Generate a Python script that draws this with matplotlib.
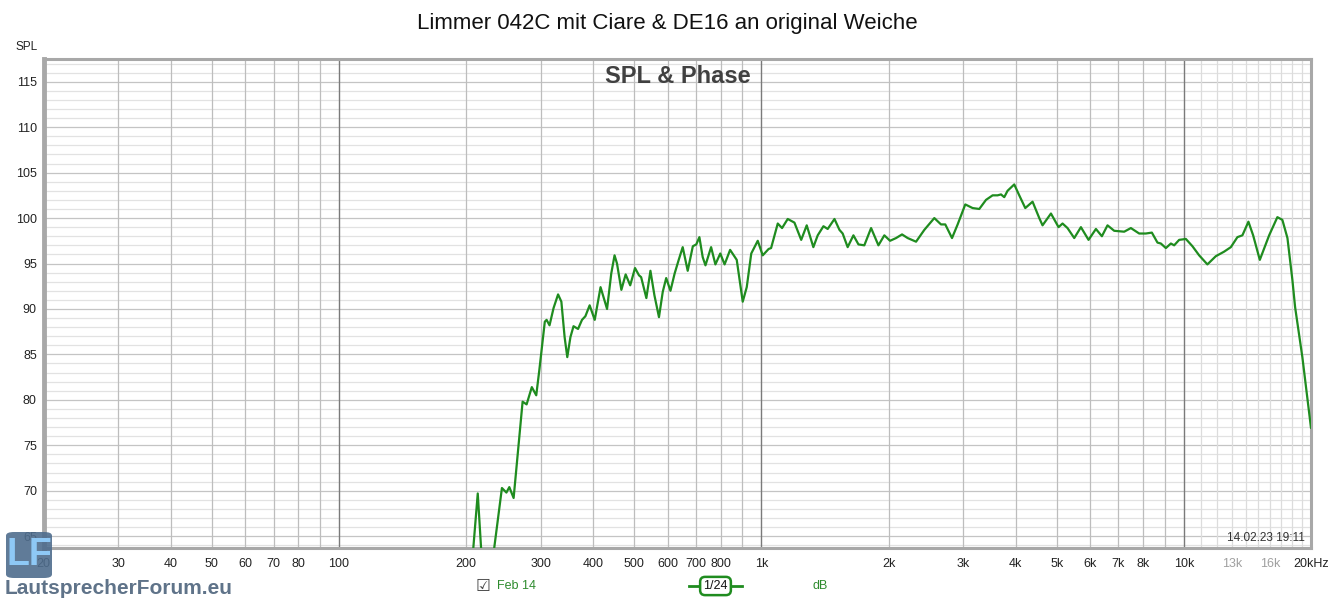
import matplotlib.pyplot as plt
from matplotlib.patches import FancyBboxPatch
from matplotlib.lines import Line2D

plt.rcParams['font.family'] = ['Liberation Sans', 'DejaVu Sans']

freq = [204, 213, 220, 226, 233, 243, 249, 253, 259, 272,
        278, 286, 293, 298, 307, 310, 315, 322, 330, 336,
        342, 347, 353, 359, 368, 376, 383, 392, 403, 416,
        431, 441, 449, 455, 466, 477, 489, 502, 513, 519,
        534, 546, 558, 572, 584, 595, 609, 623, 637, 651,
        669, 688, 701, 713, 726, 737, 760, 778, 799, 818,
        843, 874, 903, 923, 946, 980, 1007, 1040, 1054, 1093,
        1119, 1154, 1197, 1242, 1280, 1327, 1359, 1402, 1435, 1489,
        1530, 1557, 1600, 1651, 1697, 1752, 1818, 1892, 1954, 2016,
        2083, 2152, 2219, 2323, 2430, 2566, 2661, 2724, 2826, 2914,
        3038, 3162, 3279, 3401, 3526, 3622, 3691, 3757, 3825, 3967,
        4077, 4213, 4384, 4547, 4629, 4846, 5051, 5162, 5304, 5502,
        5706, 5948, 6192, 6397, 6596, 6841, 7224, 7492, 7839, 8129,
        8400, 8661, 8822, 9067, 9318, 9486, 9747, 10110, 10480, 10870,
        11370, 11900, 12450, 12920, 13390, 13760, 14220, 14590, 15130, 15920,
        16650, 17110, 17590, 18070, 18340, 19080, 20000]
spl = [59.0, 69.7, 59.0, 56.0, 63.7, 70.3, 69.8, 70.4, 69.2, 79.8,
       79.5, 81.4, 80.5, 83.3, 88.6, 88.8, 88.2, 90.1, 91.6, 90.8,
       86.9, 84.7, 86.9, 88.1, 87.8, 88.8, 89.2, 90.4, 88.8, 92.4,
       90.0, 93.9, 95.9, 95.0, 92.1, 93.8, 92.6, 94.5, 93.7, 93.5,
       91.2, 94.2, 91.5, 89.1, 91.9, 93.4, 92.0, 93.9, 95.4, 96.8,
       94.2, 96.9, 97.1, 97.9, 95.7, 94.8, 96.8, 94.9, 96.1, 94.9,
       96.5, 95.4, 90.8, 92.4, 96.1, 97.5, 95.9, 96.6, 96.7, 99.4,
       98.9, 99.9, 99.5, 97.6, 99.2, 96.8, 98.1, 99.1, 98.8, 99.9,
       98.7, 98.3, 96.8, 98.1, 97.1, 97.0, 98.9, 97.0, 98.1, 97.5,
       97.8, 98.2, 97.8, 97.4, 98.7, 100.0, 99.3, 99.3, 97.8, 99.3,
       101.5, 101.1, 101.0, 102.0, 102.5, 102.5, 102.6, 102.3, 103.0, 103.7,
       102.5, 101.1, 101.8, 100.0, 99.2, 100.5, 99.0, 99.4, 98.9, 97.8,
       99.0, 97.6, 98.8, 98.0, 99.2, 98.6, 98.5, 98.9, 98.3, 98.3,
       98.4, 97.3, 97.2, 96.7, 97.2, 97.0, 97.6, 97.7, 96.9, 95.9,
       94.9, 95.8, 96.3, 96.8, 97.9, 98.1, 99.6, 98.1, 95.4, 98.1,
       100.1, 99.8, 97.8, 93.2, 90.2, 84.7, 76.9]

x_tick_freqs = [20, 30, 40, 50, 60, 70, 80, 100, 200, 300, 400, 500, 600, 700, 800,
                1000, 2000, 3000, 4000, 5000, 6000, 7000, 8000, 10000, 13000, 16000, 20000]
x_tick_labels = ['20', '30', '40', '50', '60', '70', '80', '100', '200', '300', '400', '500',
                 '600', '700', '800', '1k', '2k', '3k', '4k', '5k', '6k', '7k', '8k', '10k',
                 '13k', '16k', '20kHz']
y_ticks = [65, 70, 75, 80, 85, 90, 95, 100, 105, 110, 115]

W, H = 1333, 606
fig = plt.figure(figsize=(W / 100, H / 100), dpi=100)
fig.patch.set_facecolor('white')

ax = fig.add_axes([43.8 / W, 1 - 548 / H, (1311 - 43.8) / W, (548 - 59) / H])
ax.set_xscale('log')
ax.set_xlim(20, 20000)
ax.set_ylim(63.7, 117.5)

# grid: 1 dB minor / 5 dB major, 1-2-3.. per decade, 1k steps above 10k
for db in range(64, 118):
    ax.axhline(db, color='#c4c4c4' if db % 5 == 0 else '#e2e2e2', lw=0.9, zorder=0)
for dec in [10, 100, 1000]:
    for m in range(2, 10):
        f = m * dec
        if f < 20:
            continue
        ax.axvline(f, color='#bdbdbd', lw=0.9, zorder=0)
for f in range(11000, 20000, 1000):
    ax.axvline(f, color='#dcdcdc', lw=0.9, zorder=0)
for f in [100, 1000, 10000]:
    ax.axvline(f, color='#7a7a7a', lw=1.0, zorder=0)

ax.plot(freq, spl, color='#1f8c1f', lw=1.6, zorder=3,
        solid_joinstyle='round', solid_capstyle='round')

ax.set_xticks(x_tick_freqs)
ax.set_xticklabels(x_tick_labels)
ax.xaxis.set_minor_locator(plt.NullLocator())
ax.set_yticks(y_ticks)
ax.tick_params(axis='both', length=0, labelsize=9, colors='#222222')
ax.tick_params(axis='x', pad=7)
ax.tick_params(axis='y', pad=5)
for lbl in ax.get_xticklabels():
    if lbl.get_text() in ('13k', '16k'):
        lbl.set_color('#a0a0a0')

for side in ['top', 'right', 'bottom', 'left']:
    ax.spines[side].set_color('#a8a8a8')
    ax.spines[side].set_linewidth(2.2)
ax.spines['left'].set_linewidth(3.5)

ax.text(0.5, 0.965, 'SPL & Phase', transform=ax.transAxes, ha='center', va='center',
        fontsize=17, fontweight='bold', color='#404040')
ax.text(0.995, 0.008, '14.02.23 19:11', transform=ax.transAxes, ha='right', va='bottom',
        fontsize=8.5, color='#333333')

fig.text(667 / W, 1 - 23 / H, 'Limmer 042C mit Ciare & DE16 an original Weiche',
         ha='center', va='center', fontsize=16, color='#111111')
fig.text(38 / W, 1 - 47 / H, 'SPL', ha='right', va='center', fontsize=8.5, color='#222222')

# legend strip under the plot
fig.text(483 / W, 1 - 586 / H, '\u2611', ha='center', va='center', fontsize=12,
         color='#444444', family=['DejaVu Sans'])
fig.text(497 / W, 1 - 586 / H, 'Feb 14', ha='left', va='center', fontsize=9, color='#2e8b2e')
fig.add_artist(Line2D([689 / W, 742 / W], [1 - 586 / H, 1 - 586 / H], color='#1f8c1f', lw=2))
fig.text(715.5 / W, 1 - 586 / H, '1/24', ha='center', va='center', fontsize=9, color='#111111',
         bbox=dict(boxstyle='round,pad=0.25,rounding_size=0.4', fc='white', ec='#1f8c1f', lw=1.8))
fig.text(820 / W, 1 - 586 / H, 'dB', ha='center', va='center', fontsize=9, color='#2e8b2e')

# forum logo
logo = FancyBboxPatch((6 / W, 1 - 578 / H), 46 / W, 46 / H,
                      boxstyle='round,pad=0,rounding_size=0.006', transform=fig.transFigure,
                      fc='#4f6d8d', ec='none', alpha=0.9, zorder=10)
fig.add_artist(logo)
fig.text(29 / W, 1 - 555 / H, 'LF', ha='center', va='center', fontsize=27, fontweight='bold',
         color='#8ec8f5', zorder=11)
fig.text(5 / W, 1 - 589 / H, 'LautsprecherForum.eu', ha='left', va='center', fontsize=15,
         fontweight='bold', color='#5f7389', zorder=11)

fig.savefig('out.png', dpi=100)
